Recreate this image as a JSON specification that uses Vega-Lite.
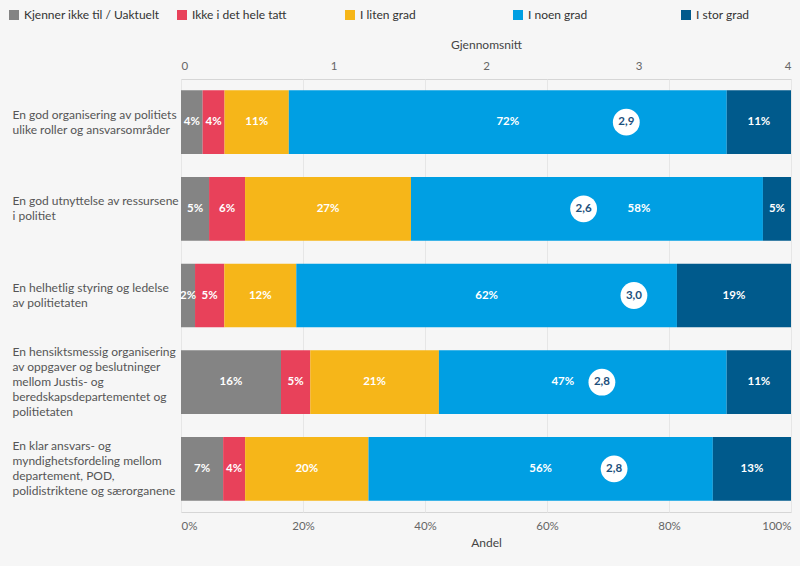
{
  "$schema": "https://vega.github.io/schema/vega-lite/v6.json",
  "width": 610,
  "height": 433,
  "autosize": {"type": "none"},
  "padding": {"left": 181, "top": 79, "right": 9, "bottom": 54},
  "background": "#f6f6f6",
  "config": {
    "font": "Lato",
    "locale": {"number": {"decimal": ",", "thousands": " ", "grouping": [3], "currency": ["", " kr"]}},
    "view": {"stroke": "#d6d6d6"},
    "legend": {"padding": 0}
  },
  "datasets": {
    "shares": [
      {"q": "En god organisering av politiets|ulike roller og ansvarsområder", "k": 1, "cat": "Kjenner ikke til / Uaktuelt", "pct": 0.0355},
      {"q": "En god organisering av politiets|ulike roller og ansvarsområder", "k": 2, "cat": "Ikke i det hele tatt", "pct": 0.036},
      {"q": "En god organisering av politiets|ulike roller og ansvarsområder", "k": 3, "cat": "I liten grad", "pct": 0.1055},
      {"q": "En god organisering av politiets|ulike roller og ansvarsområder", "k": 4, "cat": "I noen grad", "pct": 0.719},
      {"q": "En god organisering av politiets|ulike roller og ansvarsområder", "k": 5, "cat": "I stor grad", "pct": 0.1055},
      {"q": "En god utnyttelse av ressursene|i politiet", "k": 1, "cat": "Kjenner ikke til / Uaktuelt", "pct": 0.046},
      {"q": "En god utnyttelse av ressursene|i politiet", "k": 2, "cat": "Ikke i det hele tatt", "pct": 0.059},
      {"q": "En god utnyttelse av ressursene|i politiet", "k": 3, "cat": "I liten grad", "pct": 0.272},
      {"q": "En god utnyttelse av ressursene|i politiet", "k": 4, "cat": "I noen grad", "pct": 0.577},
      {"q": "En god utnyttelse av ressursene|i politiet", "k": 5, "cat": "I stor grad", "pct": 0.046},
      {"q": "En helhetlig styring og ledelse|av politietaten", "k": 1, "cat": "Kjenner ikke til / Uaktuelt", "pct": 0.023},
      {"q": "En helhetlig styring og ledelse|av politietaten", "k": 2, "cat": "Ikke i det hele tatt", "pct": 0.048},
      {"q": "En helhetlig styring og ledelse|av politietaten", "k": 3, "cat": "I liten grad", "pct": 0.118},
      {"q": "En helhetlig styring og ledelse|av politietaten", "k": 4, "cat": "I noen grad", "pct": 0.624},
      {"q": "En helhetlig styring og ledelse|av politietaten", "k": 5, "cat": "I stor grad", "pct": 0.187},
      {"q": "En hensiktsmessig organisering|av oppgaver og beslutninger|mellom Justis- og|beredskapsdepartementet og|politietaten", "k": 1, "cat": "Kjenner ikke til / Uaktuelt", "pct": 0.164},
      {"q": "En hensiktsmessig organisering|av oppgaver og beslutninger|mellom Justis- og|beredskapsdepartementet og|politietaten", "k": 2, "cat": "Ikke i det hele tatt", "pct": 0.048},
      {"q": "En hensiktsmessig organisering|av oppgaver og beslutninger|mellom Justis- og|beredskapsdepartementet og|politietaten", "k": 3, "cat": "I liten grad", "pct": 0.211},
      {"q": "En hensiktsmessig organisering|av oppgaver og beslutninger|mellom Justis- og|beredskapsdepartementet og|politietaten", "k": 4, "cat": "I noen grad", "pct": 0.472},
      {"q": "En hensiktsmessig organisering|av oppgaver og beslutninger|mellom Justis- og|beredskapsdepartementet og|politietaten", "k": 5, "cat": "I stor grad", "pct": 0.1055},
      {"q": "En klar ansvars- og|myndighetsfordeling mellom|departement, POD,|polidistriktene og særorganene", "k": 1, "cat": "Kjenner ikke til / Uaktuelt", "pct": 0.069},
      {"q": "En klar ansvars- og|myndighetsfordeling mellom|departement, POD,|polidistriktene og særorganene", "k": 2, "cat": "Ikke i det hele tatt", "pct": 0.036},
      {"q": "En klar ansvars- og|myndighetsfordeling mellom|departement, POD,|polidistriktene og særorganene", "k": 3, "cat": "I liten grad", "pct": 0.202},
      {"q": "En klar ansvars- og|myndighetsfordeling mellom|departement, POD,|polidistriktene og særorganene", "k": 4, "cat": "I noen grad", "pct": 0.564},
      {"q": "En klar ansvars- og|myndighetsfordeling mellom|departement, POD,|polidistriktene og særorganene", "k": 5, "cat": "I stor grad", "pct": 0.128}
    ],
    "avg": [
      {"q": "En god organisering av politiets|ulike roller og ansvarsområder", "avg": 2.92},
      {"q": "En god utnyttelse av ressursene|i politiet", "avg": 2.64},
      {"q": "En helhetlig styring og ledelse|av politietaten", "avg": 2.97},
      {"q": "En hensiktsmessig organisering|av oppgaver og beslutninger|mellom Justis- og|beredskapsdepartementet og|politietaten", "avg": 2.76},
      {"q": "En klar ansvars- og|myndighetsfordeling mellom|departement, POD,|polidistriktene og særorganene", "avg": 2.84}
    ]
  },
  "encoding": {
    "y": {
      "field": "q", "type": "nominal", "sort": null,
      "scale": {"paddingInner": 0.265, "paddingOuter": 0.13},
      "axis": {
        "title": null, "domain": false, "ticks": false,
        "labelAlign": "left", "labelPadding": 169, "labelLimit": 180,
        "labelExpr": "split(datum.value, '|')", "labelLineHeight": 15,
        "labelOffset": {
          "condition": [
            {"test": "length(split(datum.value, '|')) == 2", "value": -7.5},
            {"test": "length(split(datum.value, '|')) == 4", "value": -22.5},
            {"test": "length(split(datum.value, '|')) == 5", "value": -30}
          ],
          "value": 0
        },
        "labelFontSize": 12, "labelColor": "#555555", "labelFont": "Lato"
      }
    }
  },
  "layer": [
    {
      "data": {"name": "shares"},
      "transform": [
        {"stack": "pct", "groupby": ["q"], "sort": [{"field": "k", "order": "ascending"}], "offset": "normalize", "as": ["x0", "x1"]},
        {"calculate": "(datum.x0 + datum.x1) / 2", "as": "xm"}
      ],
      "layer": [
        {
          "mark": {"type": "bar"},
          "encoding": {
            "x": {
              "field": "x0", "type": "quantitative", "scale": {"domain": [0, 1]},
              "axis": {
                "orient": "bottom", "title": "Andel", "format": ".0%",
                "values": [0, 0.2, 0.4, 0.6, 0.8, 1],
                "grid": true, "gridColor": "#e6e6e6", "ticks": false, "domain": false,
                "labelFlush": true, "labelPadding": 8, "labelFontSize": 11.5, "labelColor": "#666666",
                "titleFontWeight": "normal", "titleFontSize": 12, "titleColor": "#444444", "titlePadding": 6
              }
            },
            "x2": {"field": "x1"},
            "color": {
              "field": "cat", "type": "nominal",
              "scale": {
                "domain": ["Kjenner ikke til / Uaktuelt", "Ikke i det hele tatt", "I liten grad", "I noen grad", "I stor grad"],
                "range": ["#848484", "#e8415a", "#f6b619", "#009fe3", "#005a8c"]
              },
              "legend": {
                "orient": "none", "legendX": -173, "legendY": -70, "direction": "horizontal",
                "columns": 5, "gridAlign": "all", "columnPadding": 16, "title": null,
                "symbolType": "square", "symbolSize": 100, "symbolStrokeWidth": 0,
                "labelFontSize": 12, "labelColor": "#333333", "labelLimit": 200
              }
            }
          }
        },
        {
          "transform": [{"filter": "!(datum.cat == 'I noen grad' && (indexof(datum.q, 'En god utnyttelse') == 0 || indexof(datum.q, 'En hensiktsmessig') == 0))"}],
          "mark": {"type": "text", "color": "white", "fontWeight": "bold", "fontSize": 11.5},
          "encoding": {
            "x": {"field": "xm", "type": "quantitative"},
            "text": {"field": "pct", "type": "quantitative", "format": ".0%"}
          }
        },
        {
          "transform": [{"filter": "datum.cat == 'I noen grad' && indexof(datum.q, 'En god utnyttelse') == 0"}],
          "mark": {"type": "text", "color": "white", "fontWeight": "bold", "fontSize": 11.5, "dx": 52},
          "encoding": {
            "x": {"field": "xm", "type": "quantitative"},
            "text": {"field": "pct", "type": "quantitative", "format": ".0%"}
          }
        },
        {
          "transform": [{"filter": "datum.cat == 'I noen grad' && indexof(datum.q, 'En hensiktsmessig') == 0"}],
          "mark": {"type": "text", "color": "white", "fontWeight": "bold", "fontSize": 11.5, "dx": -20},
          "encoding": {
            "x": {"field": "xm", "type": "quantitative"},
            "text": {"field": "pct", "type": "quantitative", "format": ".0%"}
          }
        }
      ]
    },
    {
      "data": {"name": "avg"},
      "encoding": {
        "x": {
          "field": "avg", "type": "quantitative", "scale": {"domain": [0, 4]},
          "axis": {
            "orient": "top", "title": "Gjennomsnitt", "values": [0, 1, 2, 3, 4], "format": "d",
            "grid": false, "ticks": false, "domain": false,
            "labelFlush": true, "labelPadding": 8, "labelFontSize": 11.5, "labelColor": "#666666",
            "titleFontWeight": "normal", "titleFontSize": 12, "titleColor": "#444444", "titlePadding": 9
          }
        }
      },
      "layer": [
        {"mark": {"type": "point", "shape": "circle", "filled": true, "color": "white", "opacity": 1, "size": 720}},
        {
          "mark": {"type": "text", "color": "#1c4f7c", "fontWeight": "bold", "fontSize": 11.5},
          "encoding": {"text": {"field": "avg", "type": "quantitative", "format": ".1f"}}
        }
      ]
    }
  ],
  "resolve": {"scale": {"x": "independent"}, "axis": {"x": "independent"}}
}
